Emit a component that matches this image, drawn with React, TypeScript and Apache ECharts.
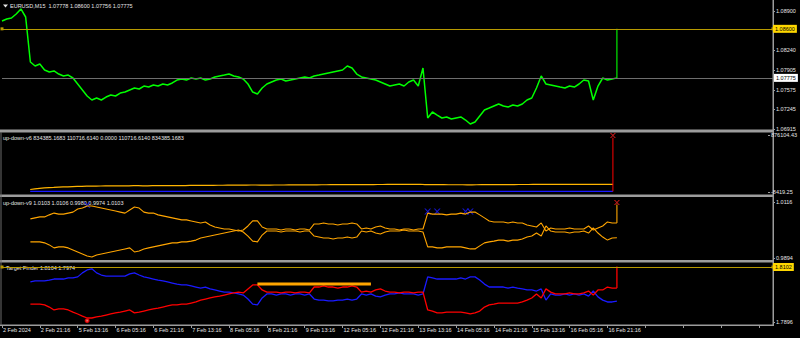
import React, { useEffect, useRef } from "react";
import * as echarts from "echarts";

const FONT = "Liberation Sans";
const TXT = "#e6e6e6";
const FRAME = "#9c9c9c";

// ---- x axis (each slot = 2 hours of M15 bars, a label every 8 slots) ----
const timeLabels = [
  "2 Feb 2024", "2 Feb 21:16", "5 Feb 13:16", "6 Feb 05:16", "6 Feb 21:16", "7 Feb 13:16",
  "8 Feb 05:16", "8 Feb 21:16", "9 Feb 13:16", "12 Feb 05:16", "12 Feb 21:16", "13 Feb 13:16",
  "14 Feb 05:16", "14 Feb 21:16", "15 Feb 13:16", "16 Feb 05:16", "16 Feb 21:16",
];
const SLOTS_PER_LABEL = 8;
const SLOT_COUNT = 164;
const slots = Array.from({ length: SLOT_COUNT }, (_, i) => String(i));
const LAST = 130;

// ---- main pane: EURUSD M15 ----
const priceClose = [
  1.08732, 1.08765, 1.08782, 1.0885, 1.08934, 1.08799, 1.08042, 1.07975, 1.08008, 1.07907,
  1.07874, 1.07891, 1.0784, 1.07807, 1.07823, 1.07773, 1.07672, 1.07571, 1.0747, 1.07403,
  1.07436, 1.07403, 1.07453, 1.07487, 1.0747, 1.0752, 1.07537, 1.07571, 1.07605, 1.07588,
  1.07638, 1.07621, 1.07655, 1.07638, 1.07672, 1.07655, 1.07689, 1.07739, 1.07756, 1.07739,
  1.07773, 1.07756, 1.07773, 1.07739, 1.07756, 1.0779, 1.07807, 1.07823, 1.0784, 1.07807,
  1.0779, 1.07756, 1.07672, 1.07537, 1.07504, 1.07605, 1.07672, 1.07706, 1.07739, 1.07756,
  1.07722, 1.07739, 1.07756, 1.07773, 1.0779, 1.07773, 1.07807, 1.07823, 1.0784, 1.07857,
  1.07874, 1.07891, 1.07907, 1.07975, 1.07941, 1.0784, 1.0779, 1.07773, 1.07756, 1.07739,
  1.07706, 1.07672, 1.07638, 1.07655, 1.07672, 1.07638, 1.07706, 1.07739, 1.07638, 1.07941,
  1.071, 1.07201, 1.0715, 1.071, 1.07117, 1.07083, 1.071, 1.07117, 1.07066, 1.06999,
  1.07033, 1.07134, 1.07235, 1.07268, 1.07302, 1.07336, 1.07302, 1.07285, 1.07319, 1.07302,
  1.07336, 1.07403, 1.07436, 1.07605, 1.07807, 1.07672, 1.07655, 1.07638, 1.07621, 1.07605,
  1.07638, 1.07621, 1.07672, 1.07739, 1.07722, 1.07403, 1.07638, 1.07773, 1.07739, 1.07756,
  1.07775,
];
const lastBar = { open: 1.07778, high: 1.086, low: 1.07756, close: 1.07775 };
const hLineMain = 1.086;
const priceTicks = [1.089, 1.0824, 1.07905, 1.07575, 1.07245, 1.06915];
const PRICE_MIN = 1.068982;
const PRICE_MAX = 1.090682;

// ---- up-down-v6 ----
const v6Line = [
  null, null, null, null, null, null,
  30000, 41000, 48000, 55000, 60000, 63000, 67000, 70000, 72000, 75000,
  78000, 80000, 83000, 85000, 84000, 85000, 86000, 86000, 87000, 87000,
  88000, 88000, 90000, 89000, 88000, 88000, 89000, 89000, 90000, 90000,
  91000, 91000, 92000, 92000, 93000, 93000, 94000, 94000, 95000, 95000,
  96000, 96000, 97000, 97000, 98000, 98000, 99000, 100000, 100000, 99000,
  99000, 99000, 100000, 100000, 100000, 101000, 101000, 101000, 102000, 102000,
  103000, 103000, 104000, 104000, 105000, 105000, 106000, 107000, 107000, 106000,
  106000, 106000, 107000, 107000, 108000, 108000, 109000, 109000, 110000, 110000,
  110000, 111000, 111000, 112000, 106000, 106000, 105000, 105000, 105000, 104000,
  104000, 104000, 104000, 103000, 103000, 104000, 105000, 105000, 106000, 106000,
  106000, 107000, 107000, 107000, 108000, 108000, 108000, 109000, 110000, 109000,
  109000, 109000, 110000, 110000, 110000, 110000, 110000, 111000, 111000, 110000,
  110000, 111000, 111000, 111000, 110716.614,
];
const v6Readout = [834385.1683, 110716.614, 0.0, 110716.614, 834385.1683];
const v6Base = [[6, 0], [LAST, 0]];
const v6Spike = 834385.1683;
const v6MarkLevel = 870000;
const V6_MIN = -8419.25;
const V6_MAX = 876104.43;

// ---- up-down-v9 ----
const v9Upper = [
  null, null, null, null, null, null,
  1.0049, 1.0053, 1.0057, 1.0057, 1.0065, 1.0072, 1.0068, 1.0068, 1.0072, 1.0076,
  1.0088, 1.0092, 1.01, 1.01, 1.0096, 1.0092, 1.0088, 1.0084, 1.008, 1.0076,
  1.0072, 1.0084, 1.0096, 1.0092, 1.0076, 1.0072, 1.0072, 1.0065, 1.0061, 1.0057,
  1.0053, 1.0049, 1.0045, 1.0045, 1.0041, 1.0037, 1.0033, 1.0037, 1.0025, 1.0017,
  1.0013, 1.0009, 1.0009, 1.0005, 1.0001, 1.0005, 1.0021, 1.0041, 1.0041, 1.0017,
  1.0009, 1.0009, 1.0009, 1.0005, 1.0009, 1.0009, 1.0005, 1.0009, 1.0009, 1.0005,
  1.0029, 1.0029, 1.0033, 1.0029, 1.0029, 1.0025, 1.0029, 1.0029, 1.0033, 1.0029,
  1.0009, 1.0013, 1.0009, 1.0017, 1.0021, 1.0013, 1.0009, 1.0009, 1.0005, 1.0009,
  1.0009, 1.0005, 1.0009, 1.0009, 1.0072, 1.0068, 1.0068, 1.0068, 1.0065, 1.0068,
  1.0068, 1.0072, 1.0068, 1.0076, 1.0076, 1.0065, 1.0053, 1.0041, 1.0037, 1.0037,
  1.0037, 1.0033, 1.0037, 1.0033, 1.0033, 1.0025, 1.0021, 1.0017, 1.0033, 1.0001,
  1.0013, 1.0009, 1.0009, 1.0009, 1.0013, 1.0009, 1.0009, 1.0009, 1.0021, 1.0005,
  1.0013, 1.0021, 1.0037, 1.0033, 1.0033,
];
const v9Lower = [
  null, null, null, null, null, null,
  0.9958, 0.9958, 0.9958, 0.9954, 0.9946, 0.9934, 0.9938, 0.9938, 0.9934, 0.9926,
  0.9918, 0.991, 0.9902, 0.9898, 0.9906, 0.991, 0.9914, 0.9918, 0.9922, 0.9926,
  0.993, 0.9934, 0.9918, 0.9922, 0.993, 0.9934, 0.9938, 0.9942, 0.9946, 0.995,
  0.9954, 0.9954, 0.9958, 0.9958, 0.9961, 0.9965, 0.9973, 0.9977, 0.9981, 0.9985,
  0.9989, 0.9993, 0.9997, 1.0001, 1.0005, 0.9997, 0.9981, 0.9961, 0.9958, 0.9985,
  1.0001, 1.0001, 1.0001, 0.9997, 1.0001, 1.0001, 1.0001, 0.9997, 1.0001, 1.0001,
  0.9981, 0.9977, 0.9973, 0.9973, 0.9969, 0.9973, 0.9973, 0.9977, 0.9973, 0.9977,
  1.0001, 0.9997, 1.0001, 0.9993, 0.9989, 0.9997, 1.0001, 1.0001, 1.0001, 1.0005,
  1.0001, 1.0001, 1.0001, 0.9997, 0.9938, 0.9938, 0.9934, 0.9934, 0.9938, 0.9938,
  0.9938, 0.9938, 0.9934, 0.993, 0.993, 0.9942, 0.9954, 0.9958, 0.9961, 0.9965,
  0.9965, 0.9961, 0.9965, 0.9965, 0.9969, 0.9977, 0.9981, 0.9993, 0.9981, 1.0021,
  1.0001, 0.9997, 0.9997, 0.9997, 0.9993, 0.9997, 0.9997, 1.0001, 0.9993, 1.0013,
  0.9993, 0.9977, 0.9965, 0.9973, 0.9974,
];
const v9UpperSpike = 1.0106;
const v9Readout = ["1.0103", "1.0106", "0.9980", "0.9974", "1.0103"];
const v9BlueMarks = [[18, 1.0104], [90, 1.0078], [92, 1.0078], [98, 1.0078], [99, 1.0078]];
const v9RedMark = 1.0114;
const V9_MIN = 0.9894;
const V9_MAX = 1.0116;

// ---- Target Finder ----
const tfBlue = [
  null, null, null, null, null, null,
  1.8046, 1.805, 1.805, 1.805, 1.8053, 1.8057, 1.8057, 1.8057, 1.8061, 1.8061,
  1.8065, 1.808, 1.8091, 1.8095, 1.808, 1.8072, 1.8068, 1.8068, 1.8068, 1.8068,
  1.8068, 1.8076, 1.808, 1.8072, 1.8065, 1.8061, 1.8057, 1.8053, 1.805, 1.8046,
  1.8042, 1.8038, 1.8035, 1.8035, 1.8031, 1.8027, 1.8023, 1.8027, 1.802, 1.8016,
  1.8012, 1.8008, 1.8008, 1.8005, 1.8001, 1.7997, 1.7982, 1.7963, 1.796, 1.7986,
  1.8001, 1.8001, 1.7997, 1.8001, 1.8001, 1.7997, 1.8001, 1.8001, 1.7997, 1.8001,
  1.7982, 1.7978, 1.7978, 1.7975, 1.7975, 1.7978, 1.7978, 1.7982, 1.7978, 1.7982,
  1.8001, 1.7997, 1.8001, 1.7993, 1.799, 1.7997, 1.8001, 1.8001, 1.8005, 1.8001,
  1.8001, 1.8001, 1.7997, 1.8001, 1.8065, 1.8061, 1.8057, 1.8057, 1.8057, 1.8057,
  1.8057, 1.8061, 1.8057, 1.8065, 1.8065, 1.8053, 1.8038, 1.8027, 1.8027, 1.8027,
  1.8027, 1.8023, 1.8027, 1.8023, 1.802, 1.8016, 1.8016, 1.8012, 1.802, 1.7978,
  1.8001, 1.7997, 1.7997, 1.8001, 1.7997, 1.8001, 1.7997, 1.8001, 1.7993, 1.8012,
  1.799, 1.7978, 1.7971, 1.7971, 1.7974,
];
const tfRed = [
  null, null, null, null, null, null,
  1.7963, 1.7963, 1.7963, 1.796, 1.7952, 1.7941, 1.7945, 1.7945, 1.7941, 1.7933,
  1.7926, 1.7918, 1.7911, 1.7911, 1.7915, 1.7918, 1.7922, 1.7926, 1.793, 1.7933,
  1.7937, 1.7941, 1.793, 1.7933, 1.7937, 1.7941, 1.7945, 1.7948, 1.7952, 1.7956,
  1.796, 1.796, 1.7963, 1.7963, 1.7967, 1.7971, 1.7978, 1.7982, 1.7986, 1.799,
  1.7993, 1.7997, 1.8001, 1.8005, 1.8008, 1.8005, 1.802, 1.8035, 1.8035, 1.8016,
  1.8008, 1.8008, 1.8008, 1.8005, 1.8008, 1.8008, 1.8005, 1.8008, 1.8008, 1.8005,
  1.8027, 1.8027, 1.8031, 1.8027, 1.8027, 1.8023, 1.8027, 1.8027, 1.8031, 1.8027,
  1.8008, 1.8012, 1.8008, 1.8016, 1.802, 1.8012, 1.8008, 1.8008, 1.8005, 1.8008,
  1.8008, 1.8005, 1.8008, 1.8008, 1.7941, 1.7937, 1.793, 1.793, 1.7933, 1.7933,
  1.7933, 1.7933, 1.793, 1.7926, 1.793, 1.7937, 1.7952, 1.796, 1.7963, 1.7967,
  1.7967, 1.7967, 1.7967, 1.7967, 1.7971, 1.7978, 1.7986, 1.8001, 1.7986, 1.802,
  1.8008, 1.8001, 1.8001, 1.8001, 1.8005, 1.8001, 1.8001, 1.8005, 1.8012, 1.7997,
  1.8016, 1.8016, 1.8027, 1.8023, 1.8023,
];
const tfRedSpike = 1.8104;
const tfReadout = ["1.8104", "1.7974"];
const tfTarget = { from: 54, to: 78, level: 1.8038 };
const tfRedCircle = [[18, 1.7901]];
const hLineTF = 1.8102;
const TF_MIN = 1.7896;
const TF_MAX = 1.8102;

const X_MARK = "path://M0,0L2,0L5,3L8,0L10,0L6,4L10,8L8,8L5,5L2,8L0,8L4,4Z";

function yAxisFor(gridIndex: number, min: number, max: number, values: number[], digits: number) {
  return {
    type: "value",
    gridIndex,
    position: "right",
    min,
    max,
    splitLine: { show: false },
    axisLine: { show: false },
    axisTick: { show: true, length: 2, lineStyle: { color: FRAME }, customValues: values },
    axisLabel: {
      show: true,
      customValues: values,
      formatter: (v: number) => v.toFixed(digits),
      color: TXT,
      fontSize: 5.5,
      fontFamily: FONT,
      margin: 3,
    },
  };
}

function xAxisFor(gridIndex: number, show: boolean) {
  const every = (i: number) => i % SLOTS_PER_LABEL === 0;
  return {
    type: "category",
    gridIndex,
    data: slots,
    boundaryGap: false,
    offset: show ? 3 : 0,
    axisLine: { show: false },
    splitLine: { show: false },
    axisTick: show
      ? { show: true, interval: every, length: 3, lineStyle: { color: FRAME } }
      : { show: false },
    axisLabel: show
      ? {
          show: true,
          interval: every,
          formatter: (v: string) => {
            const n = Number(v);
            return n % SLOTS_PER_LABEL === 0 ? timeLabels[n / SLOTS_PER_LABEL] ?? "" : "";
          },
          align: "left",
          color: TXT,
          fontSize: 5.5,
          fontFamily: FONT,
          margin: 2,
          padding: [0, 0, 0, 1],
        }
      : { show: false },
  };
}

function hLineMark(value: number, digits: number, lineColor: string, bg: string, withEnds: boolean) {
  return {
    silent: true,
    animation: false,
    precision: digits,
    symbol: withEnds ? ["rect", "rect"] : ["none", "none"],
    symbolSize: 3,
    itemStyle: { color: "#ffe680" },
    lineStyle: { color: lineColor, type: "solid", width: 1 },
    label: {
      show: true,
      position: "end",
      distance: withEnds ? 0 : 1,
      formatter: value.toFixed(digits),
      backgroundColor: bg,
      color: "#000",
      fontSize: 5.5,
      fontFamily: FONT,
      padding: [1, 2, 1, 2],
    },
    data: [{ yAxis: value }],
  };
}

function line(name: string, xi: number, data: any[], color: string, width = 1, extra: any = {}) {
  return {
    name,
    type: "line",
    xAxisIndex: xi,
    yAxisIndex: xi,
    data,
    showSymbol: false,
    symbol: "none",
    connectNulls: false,
    lineStyle: { color, width },
    itemStyle: { color },
    silent: true,
    ...extra,
  };
}

function text(t: string, x: number, y: number) {
  return {
    type: "text",
    x,
    y,
    style: { text: t, fill: TXT, fontSize: 5.5, fontFamily: FONT, verticalAlign: "middle" },
    silent: true,
  };
}

function buildOption() {
  const grids = [
    { left: 2, width: 771, top: 1, height: 129 },
    { left: 2, width: 771, top: 135, height: 57 },
    { left: 2, width: 771, top: 202, height: 56 },
    { left: 2, width: 771, top: 267, height: 55 },
  ];
  const f5 = (v: number) => v.toFixed(5);
  return {
    animation: false,
    backgroundColor: "#000",
    grid: grids,
    xAxis: [xAxisFor(0, false), xAxisFor(1, false), xAxisFor(2, false), xAxisFor(3, true)],
    yAxis: [
      yAxisFor(0, PRICE_MIN, PRICE_MAX, priceTicks, 5),
      yAxisFor(1, V6_MIN, V6_MAX, [V6_MAX, V6_MIN], 2),
      yAxisFor(2, V9_MIN, V9_MAX, [V9_MAX, V9_MIN], 4),
      yAxisFor(3, TF_MIN, TF_MAX, [TF_MIN], 4),
    ],
    graphic: [
      { type: "rect", shape: { x: 0, y: 129.5, width: 774, height: 3 }, style: { fill: FRAME }, silent: true },
      { type: "rect", shape: { x: 0, y: 194.5, width: 774, height: 2.5 }, style: { fill: FRAME }, silent: true },
      { type: "rect", shape: { x: 0, y: 260, width: 774, height: 2.5 }, style: { fill: FRAME }, silent: true },
      { type: "rect", shape: { x: 0, y: 324.5, width: 774, height: 1.5 }, style: { fill: FRAME }, silent: true },
      { type: "rect", shape: { x: 772.5, y: 0, width: 1.5, height: 326 }, style: { fill: FRAME }, silent: true },
      { type: "rect", shape: { x: 0.5, y: 132, width: 1, height: 193 }, style: { fill: "#6a6a6a" }, silent: true },
      { type: "polygon", shape: { points: [[3, 4.5], [8, 4.5], [5.5, 7.5]] }, style: { fill: TXT }, silent: true },
      text(
        `EURUSD,M15  ${f5(lastBar.open)} ${f5(lastBar.high)} ${f5(lastBar.low)} ${f5(lastBar.close)}`,
        10, 6
      ),
      text(`up-down-v6 ${v6Readout.map((v) => v.toFixed(4)).join(" ")}`, 3, 138),
      text(`up-down-v9 ${v9Readout.join(" ")}`, 3, 203),
      text(`Target Finder ${tfReadout.join(" ")}`, 6, 268),
    ],
    series: [
      // main pane
      line("EURUSD", 0, priceClose, "#00ff00", 1.5, {
        markLine: hLineMark(hLineMain, 5, "#b89a00", "#ffd700", true),
      }),
      line("lastBar", 0, [[LAST, lastBar.low], [LAST, lastBar.high]], "#00ff00", 1.1, {
        markLine: hLineMark(lastBar.close, 5, "#6e6e6e", "#ffffff", false),
      }),
      // up-down-v6
      line("v6", 1, v6Line, "#ffb400", 1.2),
      line("v6base", 1, v6Base, "#1a1aff", 1.2),
      line("v6spike", 1, [[LAST, 0], [LAST, v6Spike]], "#ff0000", 1),
      {
        type: "scatter", xAxisIndex: 1, yAxisIndex: 1, data: [[LAST, v6MarkLevel]],
        symbol: X_MARK, symbolSize: [6, 5], itemStyle: { color: "#ff2020" }, silent: true,
      },
      // up-down-v9
      line("v9up", 2, v9Upper, "#ffa500", 1.1),
      line("v9lo", 2, v9Lower, "#ffa500", 1.1),
      line("v9spike", 2, [[LAST, v9Upper[LAST]], [LAST, v9UpperSpike]], "#ffa500", 1.1),
      {
        type: "scatter", xAxisIndex: 2, yAxisIndex: 2, data: v9BlueMarks,
        symbol: X_MARK, symbolSize: [7, 6], itemStyle: { color: "#1a1aff" }, silent: true,
      },
      {
        type: "scatter", xAxisIndex: 2, yAxisIndex: 2, data: [[LAST, v9RedMark]],
        symbol: X_MARK, symbolSize: [6, 5], itemStyle: { color: "#ff2020" }, silent: true,
      },
      // Target Finder
      line("tfBlue", 3, tfBlue, "#1a1aff", 1.3),
      line("tfRed", 3, tfRed, "#ff0000", 1.3, {
        markLine: hLineMark(hLineTF, 4, "#b89a00", "#ffd700", true),
      }),
      line("tfRedSpike", 3, [[LAST, tfRed[LAST]], [LAST, tfRedSpike]], "#ff0000", 1.3, { clip: false }),
      line("tfTarget", 3, [[tfTarget.from, tfTarget.level], [tfTarget.to, tfTarget.level]], "#ffa500", 3),
      {
        type: "scatter", xAxisIndex: 3, yAxisIndex: 3, data: tfRedCircle,
        symbol: "emptyCircle", symbolSize: 3, itemStyle: { color: "#ff0000", borderColor: "#ff0000", borderWidth: 1 },
        silent: true,
      },
    ],
  };
}

export default function App() {
  const ref = useRef<HTMLDivElement>(null);
  useEffect(() => {
    if (!ref.current) return;
    const chart = echarts.init(ref.current, null, { renderer: "svg" });
    chart.setOption(buildOption() as any);
    return () => chart.dispose();
  }, []);
  return (
    <div
      ref={ref}
      style={{ position: "fixed", left: 0, top: 0, width: 800, height: 338, background: "#000" }}
    />
  );
}
